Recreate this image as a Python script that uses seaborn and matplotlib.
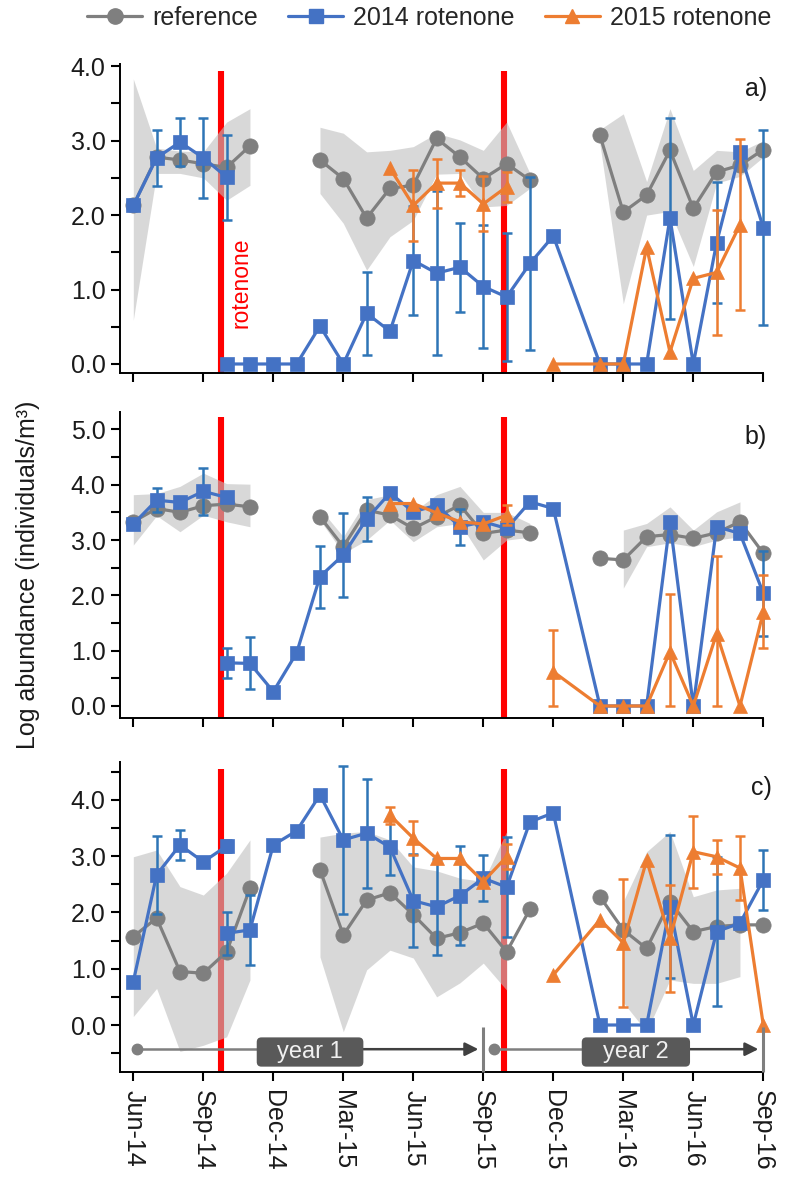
import numpy as np
import matplotlib
matplotlib.use("Agg")
import matplotlib.pyplot as plt
from matplotlib.lines import Line2D
from matplotlib.patches import FancyBboxPatch
import seaborn as sns

N = None
# ---------------- data ----------------
MONTHS = list(range(28))                 # 0 = Jun-14 ... 27 = Sep-16
TICK_POS = [0, 3, 6, 9, 12, 15, 18, 21, 24, 27]
TICK_LABELS = ["Jun-14", "Sep-14", "Dec-14", "Mar-15", "Jun-15",
               "Sep-15", "Dec-15", "Mar-16", "Jun-16", "Sep-16"]
ROTENONE_MONTHS = [3.75, 15.9]
PRE14_MONTHS = [0, 1, 2, 3, 4]
POST14_MONTHS = list(range(4, 28))
PRE15_MONTHS = list(range(11, 17))
POST15_MONTHS = list(range(18, 28))
SERIES = ["reference", "2014 rotenone", "2015 rotenone"]

# panel a
REF_A = [2.13, 2.78, 2.74, 2.69, 2.64, 2.93, N, N, 2.74, 2.49, 1.96, 2.36, 2.40, 3.03,
         2.78, 2.49, 2.69, 2.47, N, N, 3.07, 2.04, 2.27, 2.87, 2.09, 2.58, 2.67, 2.88]
REF_A_LO = [0.59, 2.56, 2.56, 2.50, 2.20, 2.40, N, N, 2.29, 1.89, 1.26, 1.71, 1.93, 2.55,
            2.56, 2.11, 2.13, 2.36, N, N, 2.95, 0.81, 2.00, 2.05, 1.31, 2.43, 2.52, 2.78]
REF_A_HI = [3.83, 2.90, 2.86, 2.85, 3.25, 3.43, N, N, 3.18, 3.10, 2.85, 2.87, 2.92, 3.10,
            3.01, 2.87, 3.25, 2.56, N, N, 3.15, 3.36, 2.45, 3.43, 2.60, 2.87, 2.85, 3.00]
B14_PRE_A = [2.13, 2.77, 2.98, 2.77, 2.51]
B14_PRE_A_ERR = [0, 0.38, 0.32, 0.54, 0.57]
B14_POST_A = [0, 0, 0, 0, 0.51, 0, 0.68, 0.44, 1.39, 1.22, 1.30, 1.04, 0.90, 1.35, 1.72, N,
              0, 0, 0, 1.96, 0, 1.63, 2.85, 1.83]
B14_POST_A_ERR = [0, 0, 0, 0, 0, 0, 0.56, 0, 0.73, 1.10, 0.60, 0.83, 0.86, 1.16, 0, N,
                  0, 0, 0, 1.35, 0, 0.81, 0, 1.31]
O15_PRE_A = [2.63, 2.13, 2.43, 2.43, 2.15, 2.38]
O15_PRE_A_ERR = [0, 0.48, 0.33, 0.17, 0.37, 0.20]
O15_POST_A = [0, N, 0, 0, 1.57, 0.16, 1.15, 1.23, 1.87, N]
O15_POST_A_ERR = [0, N, 0, 0, 0, 0, 0, 0.84, 1.15, N]

# panel b
REF_B = [3.33, 3.57, 3.50, 3.62, 3.65, 3.60, N, N, 3.42, 2.88, 3.54, 3.45, 3.21, 3.42,
         3.63, 3.12, 3.18, 3.13, N, N, 2.67, 2.64, 3.06, 3.10, 3.03, 3.13, 3.33, 2.76]
REF_B_LO = [2.91, 3.44, 3.15, 3.45, 3.33, 3.24, N, N, 3.36, 2.76, 3.00, 3.36, 2.97, 3.24,
            3.30, 2.64, 3.00, 3.05, N, N, N, 2.13, 2.88, 2.95, 2.88, 3.00, 3.06, N]
REF_B_HI = [3.82, 3.84, 3.97, 4.21, 4.02, 4.01, N, N, 3.57, 3.06, 3.73, 3.82, 3.51, 3.82,
            3.97, 3.50, 3.50, 3.30, N, N, N, 3.18, 3.30, 3.60, 3.18, 3.51, 3.69, N]
B14_PRE_B = [3.29, 3.72, 3.68, 3.88, 3.77]
B14_PRE_B_ERR = [0, 0.22, 0.05, 0.43, 0]
B14_POST_B = [0.78, 0.77, 0.26, 0.96, 2.34, 2.73, 3.38, 3.85, 3.51, 3.63, 3.24, 3.33, 3.21,
              3.69, 3.57, N, 0, 0, 0, 3.33, 0, 3.24, 3.12, 2.04]
B14_POST_B_ERR = [0.27, 0.47, 0, 0, 0.56, 0.76, 0.40, 0, 0, 0, 0.33, 0, 0, 0, 0, N,
                  0, 0, 0, 0, 0, 0, 0, 0.77]
O15_PRE_B = [3.66, 3.66, 3.49, 3.33, 3.29, 3.45]
O15_PRE_B_ERR = [0, 0, 0, 0, 0, 0.18]
O15_POST_B = [0.62, N, 0, 0, 0, 0.98, 0, 1.31, 0, 1.70]
O15_POST_B_ERR = [0.75, N, 0, 0, 0, 1.05, 0, 1.40, 0, 0.66]

# panel c
REF_C = [1.57, 1.90, 0.95, 0.92, 1.30, 2.43, N, N, 2.76, 1.60, 2.22, 2.35, 1.96, 1.54,
         1.64, 1.81, 1.30, 2.06, N, N, 2.28, 1.69, 1.36, 2.19, 1.66, 1.75, 1.78, 1.78]
REF_C_LO = [0.15, 0.65, -0.47, -0.36, -0.21, 0.80, N, N, 1.21, -0.12, 0.98, 1.33, 1.19, 0.50,
            0.75, 1.10, 0.62, N, N, N, N, 0.40, -0.12, 0.80, 0.74, 0.74, 0.86, N]
REF_C_HI = [2.99, 3.11, 2.46, 2.31, 2.70, 3.29, N, N, 3.34, 3.41, 3.44, 3.29, 2.81, 2.74,
            2.61, 2.55, 3.44, N, N, N, N, 2.20, 3.08, 3.44, 2.28, 2.40, 2.43, N]
B14_PRE_C = [0.77, 2.67, 3.20, 2.90, 3.18]
B14_PRE_C_ERR = [0, 0.69, 0.27, 0.05, 0.10]
B14_POST_C = [1.63, 1.69, 3.20, 3.45, 4.09, 3.29, 3.41, 3.16, 2.21, 2.10, 2.30, 2.61, 2.45,
              3.61, 3.77, N, 0, 0, 0, 2.10, 0, 1.66, 1.81, 2.58]
B14_POST_C_ERR = [0.38, 0.62, 0, 0, 0, 1.32, 0.97, 0.50, 0.83, 0.85, 0.88, 0.41, 0.89, 0, 0, N,
                  0, 0, 0, 1.27, 0, 1.33, 0, 0.53]
O15_PRE_C = [3.73, 3.32, 2.96, 2.96, 2.55, 2.99]
O15_PRE_C_ERR = [0.15, 0.30, 0, 0, 0, 0.22]
O15_POST_C = [0.89, N, 1.87, 1.46, 2.93, 1.54, 3.08, 2.99, 2.79, 0.0]
O15_POST_C_ERR = [0, N, 0, 1.14, 0, 0.95, 0.64, 0.30, 0.57, 0]

# ---------------- style ----------------
GRAY = "#7f7f7f"
BAND = "#bfbfbf"
BLUE = "#4472C4"
BLUE_ERR = "#2E75B6"
ORANGE = "#ED7D31"
RED = "#ff0000"

sns.set_theme(style="ticks")
plt.rcParams["font.family"] = ["Liberation Sans", "DejaVu Sans"]
plt.rcParams["axes.linewidth"] = 1.4
FS = 18

fig = plt.figure(figsize=(7.86, 11.81), dpi=100)
W, H = 786.0, 1181.0
LEFT, RIGHT = 120.0, 763.3


def add_ax(top_px, bot_px):
    return fig.add_axes([LEFT / W, 1 - bot_px / H, (RIGHT - LEFT) / W, (bot_px - top_px) / H])


def runs(xs, *cols):
    out, cur = [], []
    for i, x in enumerate(xs):
        if all(c[i] is not None for c in cols):
            cur.append(i)
        else:
            if cur:
                out.append(cur)
            cur = []
    if cur:
        out.append(cur)
    return out


def series(ax, xs, ys, errs, color, ecolor, marker, ms, z):
    pts = [(x, y, e) for x, y, e in zip(xs, ys, errs) if y is not None]
    px = [p[0] for p in pts]
    py = [p[1] for p in pts]
    ex = [p[0] for p in pts if p[2]]
    ey = [p[1] for p in pts if p[2]]
    lo = [min(p[2], p[1]) for p in pts if p[2]]
    hi = [p[2] for p in pts if p[2]]
    if ex:
        ax.errorbar(ex, ey, yerr=[lo, hi], fmt="none", ecolor=ecolor, elinewidth=1.8,
                    capsize=3.4, capthick=1.8, zorder=z - 0.5, clip_on=False)
    sns.lineplot(x=px, y=py, ax=ax, color=color, marker=marker, markersize=ms,
                 markeredgecolor=color, markeredgewidth=0.5, linewidth=2.3,
                 legend=False, errorbar=None, sort=False, zorder=z, clip_on=False)


def panel(ax, ref, lo, hi, bpre, bpre_e, bpost, bpost_e, opre, opre_e, opost, opost_e,
          ylim, yticks, red_top, label, label_xy):
    ax.set_xlim(-0.57, 27.0)
    ax.set_ylim(*ylim)
    for xr in ROTENONE_MONTHS:
        ax.vlines(xr, ylim[0], red_top, color=RED, lw=4.4, zorder=1)
    for r in runs(MONTHS, lo, hi):
        ax.fill_between([MONTHS[i] for i in r], [lo[i] for i in r], [hi[i] for i in r],
                        color=BAND, alpha=0.6, lw=0, zorder=2)
    for r in runs(MONTHS, ref):
        sns.lineplot(x=[MONTHS[i] for i in r], y=[ref[i] for i in r], ax=ax, color=GRAY,
                     marker="o", markersize=11, markeredgecolor=GRAY, markeredgewidth=0.5,
                     linewidth=2.3, legend=False, errorbar=None, sort=False, zorder=3,
                     clip_on=False)
    series(ax, PRE14_MONTHS, bpre, bpre_e, BLUE, BLUE_ERR, "s", 9.5, 5)
    series(ax, POST14_MONTHS, bpost, bpost_e, BLUE, BLUE_ERR, "s", 9.5, 5)
    series(ax, PRE15_MONTHS, opre, opre_e, ORANGE, ORANGE, "^", 10.5, 7)
    series(ax, POST15_MONTHS, opost, opost_e, ORANGE, ORANGE, "^", 10.5, 7)

    ax.set_yticks(yticks)
    ax.set_yticklabels([f"{v:.1f}" if abs(v - round(v)) < 1e-6 and v >= 0 else "" for v in yticks])
    ax.set_xticks(TICK_POS)
    ax.tick_params(axis="both", length=6.5, width=1.5, color="black", labelsize=FS,
                   labelcolor="#1a1a1a", pad=4)
    sns.despine(ax=ax)
    for s in ("left", "bottom"):
        ax.spines[s].set_color("black")
        ax.spines[s].set_linewidth(1.4)
    ax.set_xlabel("")
    ax.set_ylabel("")
    ax.text(label_xy[0], label_xy[1], label, ha="right", va="center", fontsize=FS,
            color="#1a1a1a")


ax_a = add_ax(64, 372.7)
ax_b = add_ax(411.7, 718)
ax_c = add_ax(761.7, 1071.7)

panel(ax_a, REF_A, REF_A_LO, REF_A_HI, B14_PRE_A, B14_PRE_A_ERR, B14_POST_A, B14_POST_A_ERR,
      O15_PRE_A, O15_PRE_A_ERR, O15_POST_A, O15_POST_A_ERR,
      (-0.117, 4.03), np.arange(0, 4.01, 0.5), 3.93, "a)", (27.15, 3.69))
panel(ax_b, REF_B, REF_B_LO, REF_B_HI, B14_PRE_B, B14_PRE_B_ERR, B14_POST_B, B14_POST_B_ERR,
      O15_PRE_B, O15_PRE_B_ERR, O15_POST_B, O15_POST_B_ERR,
      (-0.217, 5.32), np.arange(0, 5.01, 0.5), 5.22, "b)", (27.15, 4.86))
panel(ax_c, REF_C, REF_C_LO, REF_C_HI, B14_PRE_C, B14_PRE_C_ERR, B14_POST_C, B14_POST_C_ERR,
      O15_PRE_C, O15_PRE_C_ERR, O15_POST_C, O15_POST_C_ERR,
      (-0.83, 4.68), np.arange(-0.5, 4.51, 0.5), 4.55, "c)", (27.37, 4.22))

ax_a.set_xticklabels([])
ax_b.set_xticklabels([])
ax_c.set_xticklabels(TICK_LABELS, rotation=270, ha="center", va="top")
ax_c.tick_params(axis="x", pad=7)

# rotenone label
ax_a.text(4.63, 1.09, "rotenone", rotation=90, color=RED, fontsize=16.5,
          ha="center", va="center")

# year annotations (panel c)
YL = -0.43
def year(ax, x0, bx0, bx1, x1, label):
    ax.plot([x0], [YL], marker="o", ms=7.5, color=GRAY, zorder=9, clip_on=False)
    ax.plot([x0, bx0], [YL, YL], color=GRAY, lw=1.8, zorder=8)
    ax.annotate("", xy=(x1, YL), xytext=(bx1, YL),
                arrowprops=dict(arrowstyle="-|>", color="#404040", lw=1.8,
                                mutation_scale=20, shrinkA=0, shrinkB=0), zorder=8)
    box = FancyBboxPatch((bx0, -0.74), bx1 - bx0, 0.52,
                         boxstyle="round,pad=0,rounding_size=0.2",
                         mutation_aspect=0.42, facecolor="#595959", edgecolor="none",
                         zorder=9)
    ax.add_patch(box)
    ax.text((bx0 + bx1) / 2, -0.48, label, ha="center", va="center", fontsize=17,
            color="#f0f0f0", zorder=10)

year(ax_c, 0.16, 5.29, 9.86, 14.79, "year 1")
year(ax_c, 15.44, 19.22, 23.86, 26.79, "year 2")
for xb in (15.0, 27.0):
    ax_c.plot([xb, xb], [-0.03, -0.83], color=GRAY, lw=2.2, zorder=8, clip_on=False,
              solid_capstyle="butt")

# y label
fig.text(28 / W, 1 - 575 / H, "Log abundance (individuals/m³)", rotation=90,
         ha="center", va="center", fontsize=FS, color="#1a1a1a")

# legend
handles = [
    Line2D([], [], color=GRAY, marker="o", markersize=11, lw=2.3, markeredgecolor=GRAY),
    Line2D([], [], color=BLUE, marker="s", markersize=9.5, lw=2.3, markeredgecolor=BLUE),
    Line2D([], [], color=ORANGE, marker="^", markersize=10.5, lw=2.3, markeredgecolor=ORANGE),
]
fig.legend(handles, SERIES, loc="center", bbox_to_anchor=(0.546, 1 - 18 / H), ncol=3,
           frameon=False, fontsize=FS, handlelength=2.2, handletextpad=0.4,
           columnspacing=1.2)

fig.savefig("out.png", dpi=100)
